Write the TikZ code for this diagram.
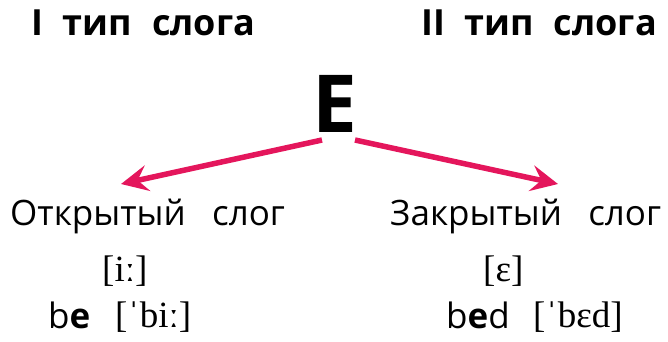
\documentclass[tikz,border=0pt]{standalone}
\usepackage{fontspec}
\setmainfont{Open Sans}
\newfontfamily\ipafont{Liberation Serif}
\usetikzlibrary{arrows.meta}
\definecolor{arrowred}{RGB}{228,22,92}
\tikzset{
  heading/.style={font=\fontsize{36}{40}\selectfont\bfseries, inner sep=0pt, anchor=base west},
  bigletter/.style={font=\fontsize{80}{90}\selectfont\bfseries, inner sep=0pt, anchor=base},
  kind/.style={font=\fontsize{35}{40}\selectfont, inner sep=0pt, anchor=base west},
  ipa/.style={font=\fontsize{37}{40}\selectfont\ipafont, inner sep=0pt, anchor=base west},
  word/.style={font=\fontsize{35}{40}\selectfont, inner sep=0pt, anchor=base west},
  redarrow/.style={draw=arrowred, line width=5.5pt, -{Stealth[length=27pt,width=26pt,inset=10pt]}}
}
\begin{document}
\begin{tikzpicture}[x=1pt,y=-1pt]
\useasboundingbox (0,0) rectangle (668,341);
\node[heading] (h1) at (31,35) {I\hspace{0.55em}тип\hspace{0.55em}слога};
\node[heading] (h2) at (421,35) {II\hspace{0.55em}тип\hspace{0.55em}слога};
\node[bigletter] (E) at (335,132) {E};
\coordinate (ls) at (322,140);
\coordinate (rs) at (355,140);
\node[kind] (open) at (10,225) {Открытый\hspace{0.75em}слог};
\node[kind] (closed) at (390,225) {Закрытый\hspace{0.75em}слог};
\draw[redarrow] (ls) -- (121,184) coordinate (le);
\draw[redarrow] (rs) -- (558,184) coordinate (re);
\node[ipa] (i1) at (102,281) {[iː]};
\node[ipa] (i2) at (483,281) {[ɛ]};
\node[word] (w1) at (48,328) {b\textbf{e}};
\node[ipa] (t1) at (115,327) {[ˈbiː]};
\node[word] (w2) at (446,328) {b\textbf{e}d};
\node[ipa] (t2) at (533,327) {[ˈbɛd]};
\end{tikzpicture}
\end{document}
